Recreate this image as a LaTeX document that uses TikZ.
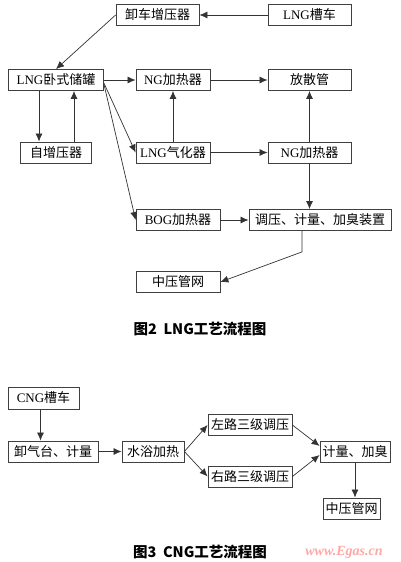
\documentclass[tikz,border=0pt]{standalone}
\usepackage{fontspec}
\usetikzlibrary{arrows.meta}
\setmainfont{Liberation Serif}
\newfontfamily\cjk{Noto Sans CJK SC}

\begin{document}
\begin{tikzpicture}[x=1pt,y=-1pt,>={Latex[length=8pt,width=7pt]},
  box/.style={draw=black!75,line width=.8pt,inner sep=0pt,minimum height=21pt,
    font=\fontsize{13}{15}\selectfont},
  captext/.style={font=\cjk\bfseries\fontsize{14.5}{16}\selectfont},
  wmark/.style={text=red!35,font=\bfseries\itshape\fontsize{14}{16}\selectfont},
  conn/.style={->,draw=black!80,line width=.7pt}]
  \useasboundingbox (0,0) rectangle (400,562);
  % LNG
  \node[box,minimum width=83pt] (xz) at (157.5,15) {\cjk 卸车增压器};
  \node[box,minimum width=83pt] (cc) at (309.5,15) {LNG{\cjk 槽车}};
  \node[box,minimum width=95pt] (cg) at (56,80) {LNG{\cjk 卧式储罐}};
  \node[box,minimum width=74pt] (jr1) at (173,80) {NG{\cjk 加热器}};
  \node[box,minimum width=83pt] (fs) at (309.5,80) {\cjk 放散管};
  \node[box,minimum width=71pt] (zz) at (56,152.5) {\cjk 自增压器};
  \node[box,minimum width=74pt] (qh) at (173,152.5) {LNG{\cjk 气化器}};
  \node[box,minimum width=83pt] (jr2) at (309.5,152.5) {NG{\cjk 加热器}};
  \node[box,minimum width=84pt] (bog) at (178,220) {BOG{\cjk 加热器}};
  \node[box,minimum width=142pt] (ty) at (320,220) {\cjk 调压、计量、加臭装置};
  \node[box,minimum width=84pt] (zy) at (178,282) {\cjk 中压管网};
  \node[captext] (cap1) at (200,329) {图2\ \ LNG工艺流程图};

  \draw [conn] (cc) -- (xz);
  \draw [conn] (xz.west) -- (cg.north);
  \draw [conn] (cg) -- (jr1);
  \draw [conn] (jr1) -- (fs);
  \draw [conn] ([xshift=-17pt]cg.south) -- ([xshift=-17pt]zz.north);
  \draw [conn] ([xshift=18pt]zz.north) -- ([xshift=18pt]cg.south);
  \draw [conn] ([yshift=-3pt]cg.east) -- (qh.west);
  \draw [conn] ([yshift=-4pt]cg.east) -- (bog.west);
  \draw [conn] (qh) -- (jr1);
  \draw [conn] (qh) -- (jr2);
  \draw [conn] (jr2) -- (fs);
  \draw [conn] (jr2.south) -- (jr2.south |- ty.north);
  \draw [conn] (bog) -- (ty);
  \draw [conn] ([xshift=-18pt]ty.south) -- ++(0,21) -- (zy.east);

  % CNG
  \node[box,minimum width=71pt,minimum height=22pt] (cng) at (43.5,398) {CNG{\cjk 槽车}};
  \node[box,minimum width=90pt] (xq) at (53,451.5) {\cjk 卸气台、计量};
  \node[box,minimum width=62pt] (sy) at (153,451.5) {\cjk 水浴加热};
  \node[box,minimum width=84pt] (zl) at (250,425) {\cjk 左路三级调压};
  \node[box,minimum width=84pt] (yl) at (250,476.5) {\cjk 右路三级调压};
  \node[box,minimum width=70pt] (jl) at (355,452) {\cjk 计量、加臭};
  \node[box,minimum width=57pt] (zy2) at (351.5,508.5) {\cjk 中压管网};
  \node[captext] (cap2) at (200,552) {图3\ \ CNG工艺流程图};
  \node[wmark] (wm) at (344,552) {www.Egas.cn};

  \draw [conn] ([xshift=-3pt]cng.south) -- ([xshift=-3pt]cng.south |- xq.north);
  \draw [conn] (xq) -- (sy);
  \draw [conn] (sy.east) -- (zl.west);
  \draw [conn] (sy.east) -- (yl.west);
  \draw [conn] (zl.east) -- ([yshift=6pt]jl.west);
  \draw [conn] (yl.east) -- ([yshift=-3pt]jl.west);
  \draw [conn] (jl.south) -- (jl.south |- zy2.north);
\end{tikzpicture}
\end{document}
